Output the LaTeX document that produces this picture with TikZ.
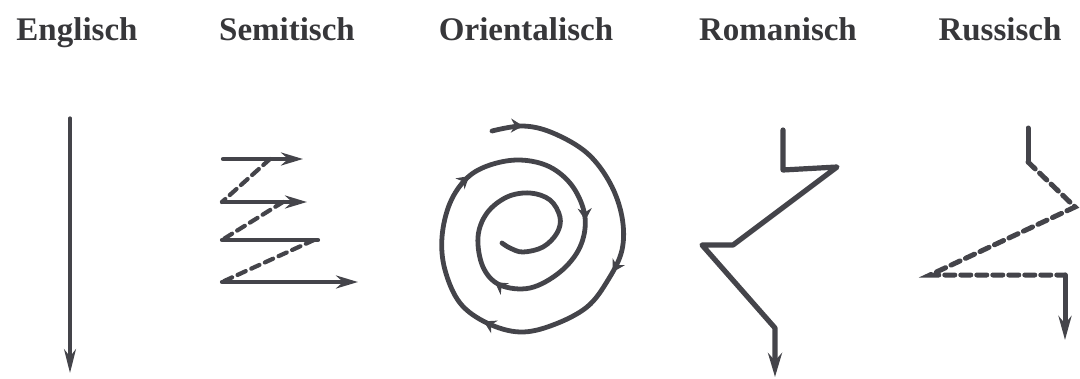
\documentclass[tikz,border=0pt]{standalone}
\usepackage{fontspec}
\setmainfont{Liberation Serif}
\usetikzlibrary{arrows.meta,decorations.markings}
\definecolor{ink}{RGB}{68,68,74}
\definecolor{txt}{RGB}{55,55,58}
\begin{document}
\begin{tikzpicture}[x=1pt,y=-1pt,
  title/.style={font=\fontsize{33}{40}\selectfont\bfseries, text=txt, anchor=base, inner sep=0pt},
  ln/.style={draw=ink, line width=#1, line cap=round, line join=round},
  dsh/.style={dash pattern=on 9pt off 6pt},
  head/.style={-{Stealth[length=22pt,width=13pt]}},
  spiralmarks/.style={postaction={decorate}, decoration={markings,
    mark=at position 0.029 with {\arrow{Stealth[length=12pt,width=14pt]}},
    mark=at position 0.215 with {\arrow{Stealth[length=12pt,width=14pt]}},
    mark=at position 0.357 with {\arrow{Stealth[length=12pt,width=14pt]}},
    mark=at position 0.512 with {\arrow{Stealth[length=12pt,width=14pt]}},
    mark=at position 0.652 with {\arrow{Stealth[length=12pt,width=14pt]}},
    mark=at position 0.772 with {\arrow{Stealth[length=12pt,width=14pt]}}}}]
\useasboundingbox (0,0) rectangle (1080,378);

% titles
\node[title] (tEn) at (77,40) {Englisch};
\node[title] (tSe) at (287,40) {Semitisch};
\node[title] (tOr) at (526,40) {Orientalisch};
\node[title] (tRo) at (778,40) {Romanisch};
\node[title] (tRu) at (1000,40) {Russisch};

% Englisch
\coordinate (e1) at (70,118);
\coordinate (e2) at (70,373);
\draw[ln=3.2pt, -{Stealth[length=24pt,width=12pt]}] (e1) -- (e2);

% Semitisch
\coordinate (s1l) at (223,159); \coordinate (s1r) at (303,159); \coordinate (d1) at (270,159);
\coordinate (s2l) at (222,202); \coordinate (s2r) at (307,202); \coordinate (d2) at (283,202);
\coordinate (s3l) at (222,240); \coordinate (s3r) at (318,240); \coordinate (d3) at (314,240);
\coordinate (s4l) at (222,282); \coordinate (s4r) at (358,282);
\draw[ln=4.2pt, head] (s1l) -- (s1r);
\draw[ln=4.2pt, head] (s2l) -- (s2r);
\draw[ln=4.2pt] (s3l) -- (s3r);
\draw[ln=4.2pt, head] (s4l) -- (s4r);
\draw[ln=4.2pt, dsh] (d1) -- (s2l);
\draw[ln=4.2pt, dsh] (d2) -- (s3l);
\draw[ln=4.2pt, dsh] (d3) -- (s4l);

% Orientalisch spiral
\draw[ln=4.8pt, spiralmarks] plot[smooth, tension=0.6] coordinates {
  (492,131) (523,126) (553,133) (587,153) (610,183) (622,217) (622,250)
  (608,280) (587,307) (553,325) (520,332) (487,323) (460,303) (445,270)
  (442,237) (450,203) (467,178) (490,165) (520,160) (550,167) (573,187)
  (585,217) (580,247) (560,272) (530,288) (500,285) (483,267) (478,237)
  (487,213) (507,197) (530,193) (550,200) (560,217) (557,233) (543,247)
  (523,252) (510,248) (502,243)};

% Romanisch
\coordinate (r1) at (783,130); \coordinate (r2) at (783,170);
\coordinate (r3) at (837,167); \coordinate (r4) at (733,245);
\coordinate (r5) at (702,245); \coordinate (r6) at (775,328);
\coordinate (r7) at (775,377);
\draw[ln=5.2pt, -{Stealth[length=24pt,width=14pt]}] (r1) -- (r2) -- (r3) -- (r4) -- (r5) -- (r6) -- (r7);

% Russisch
\coordinate (u1) at (1028,128); \coordinate (u2) at (1028,162);
\coordinate (u3) at (1075,207); \coordinate (u4) at (930,275);
\coordinate (u5) at (1065,275); \coordinate (u6) at (1065,340);
\draw[ln=5pt] (u1) -- (u2);
\draw[ln=5pt, dash pattern=on 10pt off 6pt, line join=miter] (u2) -- (u3) -- (u4) -- (u5);
\draw[ln=5pt, -{Stealth[length=24pt,width=13pt]}] (u5) -- (u6);
\end{tikzpicture}
\end{document}
